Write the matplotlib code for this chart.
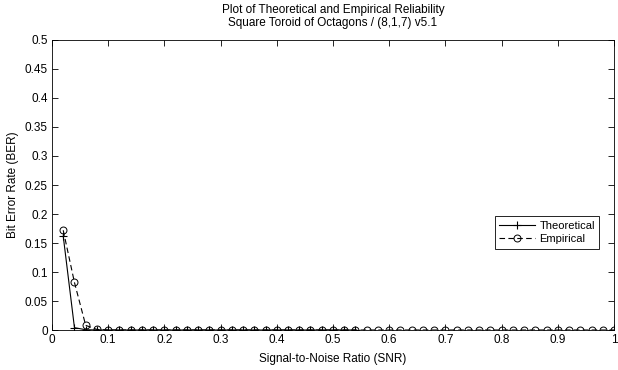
import numpy as np
import matplotlib.pyplot as plt

plt.rcParams['font.family'] = ['Liberation Sans', 'DejaVu Sans']

# SNR sample points
snr_emp = [0.02, 0.04, 0.06, 0.08, 0.10, 0.12, 0.14, 0.16, 0.18, 0.20,
           0.22, 0.24, 0.26, 0.28, 0.30, 0.32, 0.34, 0.36, 0.38, 0.40,
           0.42, 0.44, 0.46, 0.48, 0.50, 0.52, 0.54, 0.56, 0.58, 0.60,
           0.62, 0.64, 0.66, 0.68, 0.70, 0.72, 0.74, 0.76, 0.78, 0.80,
           0.82, 0.84, 0.86, 0.88, 0.90, 0.92, 0.94, 0.96, 0.98, 1.00]
ber_emp = [0.172, 0.082, 0.008, 0.001] + [0.0] * 46

snr_theo = snr_emp[:27]
ber_theo = [0.162, 0.004, 0.0005] + [0.0] * 24

fig = plt.figure(figsize=(6.18, 3.70), dpi=100)
ax = fig.add_axes([0.0841, 0.1081, 0.9094, 0.7838])

ax.plot(snr_theo, ber_theo, color='black', lw=0.8, marker='+', ms=6,
        mew=0.8, label='Theoretical')
ax.plot(snr_emp, ber_emp, color='black', lw=0.8, ls=(0, (5, 3)), marker='o',
        ms=5, mfc='none', mew=0.7, label='Empirical')

ax.set_xlim(0, 1)
ax.set_ylim(0, 0.5)
ax.set_xticks(np.arange(0, 1.01, 0.1))
ax.set_xticklabels(['0', '0.1', '0.2', '0.3', '0.4', '0.5', '0.6', '0.7',
                    '0.8', '0.9', '1'])
ax.set_yticks(np.arange(0, 0.501, 0.05))
ax.set_yticklabels(['0', '0.05', '0.1', '0.15', '0.2', '0.25', '0.3',
                    '0.35', '0.4', '0.45', '0.5'])
ax.tick_params(direction='in', length=4, width=0.6, top=True, right=True,
               labelsize=8.5, pad=3)
for s in ax.spines.values():
    s.set_linewidth(0.6)

ax.set_title('Plot of Theoretical and Empirical Reliability\n'
             'Square Toroid of Octagons / (8,1,7) v5.1',
             fontsize=8.5, linespacing=1.1, pad=10)
ax.set_xlabel('Signal-to-Noise Ratio (SNR)', fontsize=8.5, labelpad=5)
ax.set_ylabel('Bit Error Rate (BER)', fontsize=8.5, labelpad=4)

leg = ax.legend(loc='center', bbox_to_anchor=(0.881, 0.336), fontsize=8,
                handlelength=3.2, fancybox=False, edgecolor='black',
                framealpha=1, borderpad=0.4, labelspacing=0.3,
                handletextpad=0.4)
leg.get_frame().set_linewidth(0.6)

fig.savefig('out.png', dpi=100)
